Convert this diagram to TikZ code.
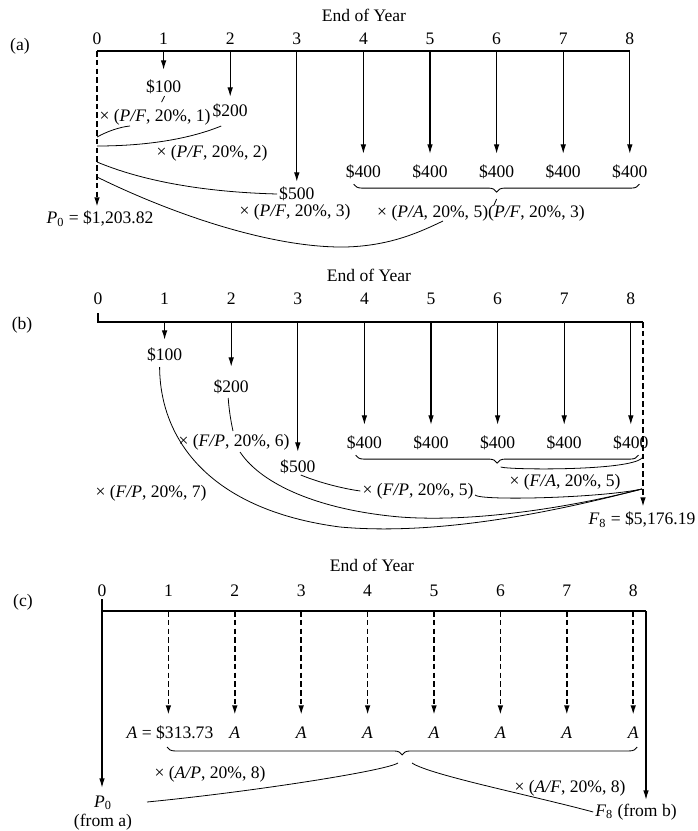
\documentclass[tikz,border=0pt]{standalone}
\usepackage{fontspec}
\setmainfont{Liberation Serif}
\usetikzlibrary{arrows.meta,positioning,calc,decorations.pathreplacing}
\newcommand{\ifac}[2]{× (\textit{#1}, 20\%, #2)}

\begin{document}
\begin{tikzpicture}[x=0.02cm, y=-0.02cm,
axis/.style={line width=0.9pt},
flow/.style={-{Latex[length=5.5pt,width=3.2pt]}, line width=0.75pt},
dflow/.style={flow, line width=0.95pt, dash pattern=on 3.2pt off 1.8pt},
link/.style={line width=0.45pt},
cash/.style={inner sep=1pt},
brc/.style={decorate, decoration={brace, mirror, amplitude=4.5pt}, line width=0.5pt}
]
\useasboundingbox (0,0) rectangle (697,831);

% (a) present worth
\node (enda) at (364,15) {End of Year};
\node (laba) at (20,46) {(a)};
\foreach \i in {0,...,8} {
  \node (ya\i) at (97+66.6*\i,39) {\i};
  \coordinate (a\i) at (97+66.6*\i,51);
}
\draw[axis] (a0) -- (a8);
\foreach \i/\t/\v/\l in {1/70/100/87,2/97/200/111,3/182/500/194,4/154/400/172,5/154/400/172,6/154/400/172,7/154/400/172,8/154/400/172} {
  \coordinate (ta\i) at (97+66.6*\i,\t);
  \draw[flow] (a\i) -- (ta\i);
  \node[cash] (va\i) at (97+66.6*\i,\l) {\$\v};
}
\coordinate (pa) at (97,207);
\draw[dflow] (a0) -- (pa);
\node[cash] (p0a) at (100,219) {\textit{P}\textsubscript{0} = \$1,203.82};
\coordinate (pa1) at (97,137);
\coordinate (pa2) at (97,146);
\coordinate (pa3) at (97,162);
\coordinate (pa4) at (97,177);
\node[cash] (fa1) at (155,117) {\ifac{P/F}{1}};
\node[cash] (fa2) at (212,153) {\ifac{P/F}{2}};
\node[cash] (fa3) at (295,212) {\ifac{P/F}{3}};
\node[cash] (fa4) at (481,213) {× (\textit{P/A}, 20\%, 5)(\textit{P/F}, 20\%, 3)};
\draw[link] (va1.south) ++(1,0) -- ++(-3,6);
\draw[link] (pa1) .. controls (108,131) and (120,127) .. ($(fa1)+(-25,9)$);
\draw[link] (pa2) .. controls (150,146) and (192,138) .. ($(va2)+(-9,15)$);
\draw[link] (pa3) .. controls (140,180) and (200,192) .. (va3.west);
\draw[brc] ($(va4.south west)+(10,3)$) -- ($(va8.south east)+(-10,3)$);
\draw[link] ($(va6)+(0,27)$) -- ++(-3,7);
\draw[link] (pa4) .. controls (170,213) and (270,248) .. (345,247)
  .. controls (390,246) and (420,232) .. ($(fa4)+(-38,8)$);

% (b) future worth
\node (endb) at (369,275) {End of Year};
\node (labb) at (22,325) {(b)};
\foreach \i in {0,...,8} {
  \node (yb\i) at (98+66.6*\i,299) {\i};
  \coordinate (b\i) at (98+66.6*\i,322);
}
\coordinate (bend) at (643,322);
\draw[axis] (b0) ++(0,-9) -- (b0) -- (bend);
\foreach \i/\t/\v/\l in {1/340/100/355,2/367/200/387,3/452/500/467,4/425/400/443,5/425/400/443,6/425/400/443,7/425/400/443,8/425/400/443} {
  \coordinate (tb\i) at (98+66.6*\i,\t);
  \draw[flow] (b\i) -- (tb\i);
  \node[cash] (vb\i) at (98+66.6*\i,\l) {\$\v};
}
\coordinate (fb) at (643,507);
\draw[dflow] (bend) -- (fb);
\node[cash] (f8b) at (642,520) {\textit{F}\textsubscript{8} = \$5,176.19};
\coordinate (mb) at (642,489);
\node[cash] (fpb6) at (234,442) {\ifac{F/P}{6}};
\node[cash] (fpb7) at (151,493) {\ifac{F/P}{7}};
\node[cash] (fpb5) at (418,491) {\ifac{F/P}{5}};
\node[cash] (fab) at (565,482) {\ifac{F/A}{5}};
\draw[brc] ($(vb4.south west)+(11,3)$) -- ($(vb8.south east)+(-12,3)$);
\draw[link] ($(vb6)+(3,24)$) .. controls (510,470) and (630,471) .. ($(bend)+(-1,136)$);
\draw[link] ($(vb3)+(3,8)$) .. controls (320,483) and (345,489) .. (fpb5.west);
\draw[link] ($(fpb5)+(57,4)$) .. controls (480,501) and (600,498) .. (mb);
\draw[link] ($(vb2)+(-3,11)$) .. controls (229,410) and (231,422) .. ($(fpb6)+(-1,-11)$);
\draw[link] ($(fpb6)+(6,10)$) .. controls (262,485) and (320,510) .. (400,517)
  .. controls (480,523) and (580,505) .. (mb);
\draw[link] ($(vb1)+(-5,12)$) .. controls (160,440) and (210,510) .. (340,527)
  .. controls (450,537) and (580,505) .. (mb);

% (c) equivalent annual worth
\node (endc) at (372,565) {End of Year};
\node (labc) at (23,602) {(c)};
\foreach \i in {0,...,8} {
  \node (yc\i) at (102+66.4*\i,591) {\i};
  \coordinate (c\i) at (102+66.4*\i,611);
}
\coordinate (cend) at (646,611);
\draw[axis] (c0) -- (cend);
\coordinate (c0top) at (102,599);
\coordinate (pc) at (102,788);
\draw[flow] (c0top) -- (pc);
\coordinate (fc) at (646,800);
\draw[flow] (cend) -- (fc);
\foreach \i in {1,...,8} {
  \coordinate (tc\i) at (102+66.4*\i,715);
  \draw[dflow] (c\i) -- (tc\i);
}
\node[cash] (vc1) at (170,733) {\textit{A} = \$313.73};
\foreach \i in {2,...,8} {
  \node[cash] (vc\i) at (102+66.4*\i,733) {\textit{A}};
}
\draw[brc] ($(vc1)+(-3,14)$) -- ($(vc8)+(4,14)$);
\coordinate (ctip) at (404,761);
\node[cash] (apc) at (210,774) {\ifac{A/P}{8}};
\node[cash] (afc) at (570,788) {\ifac{A/F}{8}};
\node[cash, align=center] (p0c) at (103,813) {\textit{P}\textsubscript{0}\\[-1pt](from a)};
\node[cash] (f8c) at (636,812) {\textit{F}\textsubscript{8} (from b)};
\draw[link] ($(ctip)+(-6,2)$) .. controls (385,771) and (250,792) .. ($(p0c)+(44,-11)$);
\draw[link] ($(ctip)+(8,2)$) .. controls (430,775) and (530,795) .. (f8c.west);
\end{tikzpicture}
\end{document}
